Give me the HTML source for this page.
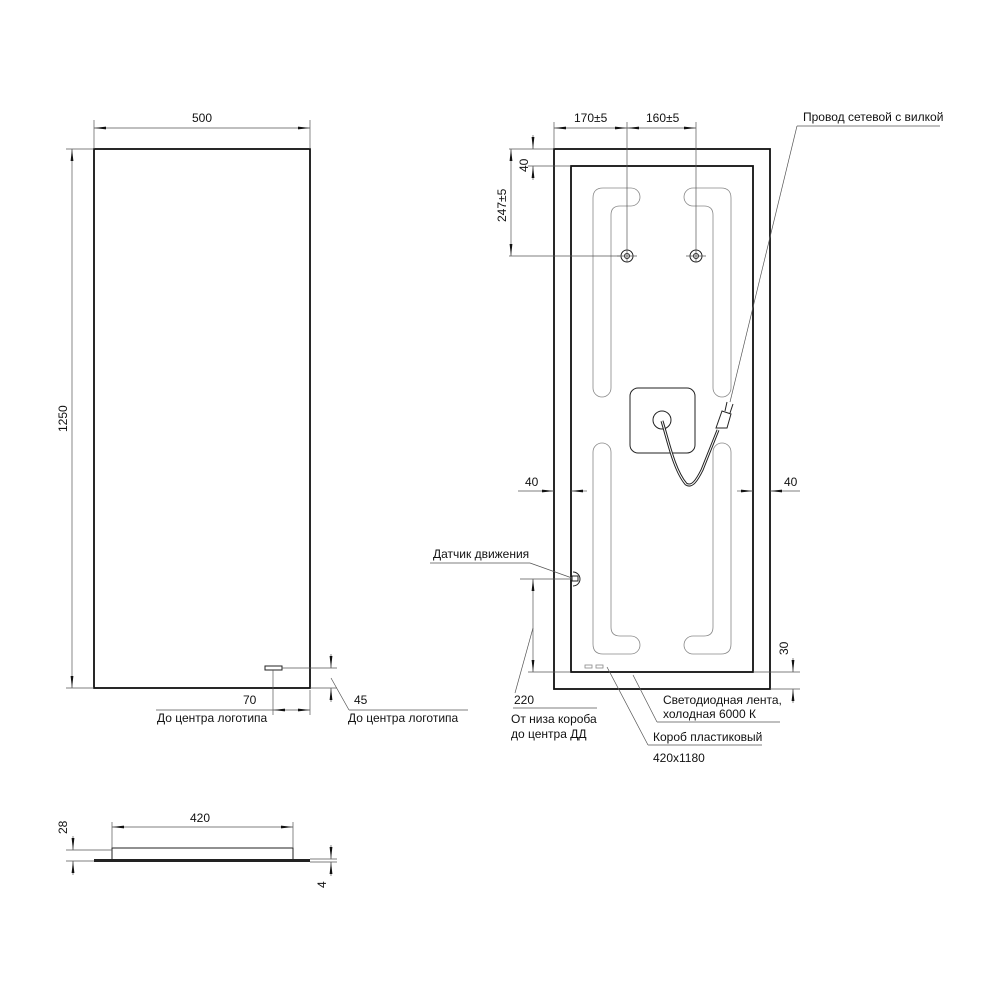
<!DOCTYPE html>
<html><head><meta charset="utf-8"><style>
html,body{margin:0;padding:0;background:#fff}
svg{display:block}
text{font-family:"Liberation Sans","DejaVu Sans",sans-serif;font-size:12px;fill:#111}
.t{stroke:#111;stroke-width:1.8;fill:none}
.m{stroke:#222;stroke-width:1;fill:none}
.h{stroke:#555;stroke-width:0.7;fill:none}
.l{stroke:#888;stroke-width:0.8;fill:none}
</style></head><body>
<svg width="1000" height="1000" viewBox="0 0 1000 1000" xmlns="http://www.w3.org/2000/svg">
<defs>
<marker id="a" viewBox="0 0 12 4" refX="12" refY="2" markerWidth="12" markerHeight="4" orient="auto-start-reverse" markerUnits="userSpaceOnUse"><path d="M0,0.6 L12,2 L0,3.4z" fill="#111"/></marker>
</defs>

<!-- LEFT FRONT VIEW -->
<rect class="t" x="94" y="149" width="216" height="539"/>
<line class="h" x1="94" y1="120" x2="94" y2="149"/>
<line class="h" x1="310" y1="120" x2="310" y2="149"/>
<line class="h" x1="94" y1="128" x2="310" y2="128" marker-start="url(#a)" marker-end="url(#a)"/>
<text x="192" y="122">500</text>
<line class="h" x1="66" y1="149" x2="94" y2="149"/>
<line class="h" x1="66" y1="688" x2="94" y2="688"/>
<line class="h" x1="72" y1="149" x2="72" y2="688" marker-start="url(#a)" marker-end="url(#a)"/>
<text transform="translate(67,432) rotate(-90)">1250</text>
<rect class="m" x="265" y="666" width="17" height="4" stroke-width="1.3"/>
<line class="h" x1="282" y1="668" x2="337" y2="668"/>
<line class="h" x1="310" y1="688" x2="337" y2="688"/>
<line class="h" x1="273" y1="670" x2="273" y2="715"/>
<line class="h" x1="310" y1="690" x2="310" y2="715"/>
<line class="h" x1="273" y1="710" x2="310" y2="710" marker-start="url(#a)" marker-end="url(#a)"/>
<line class="h" x1="156" y1="710" x2="273" y2="710"/>
<text x="243" y="704">70</text>
<text x="157" y="722">До центра логотипа</text>
<line class="h" x1="331" y1="654" x2="331" y2="668" marker-end="url(#a)"/>
<line class="h" x1="331" y1="702" x2="331" y2="688" marker-end="url(#a)"/>
<line class="h" x1="331" y1="678" x2="349" y2="710"/>
<line class="h" x1="349" y1="710" x2="468" y2="710"/>
<text x="354" y="704">45</text>
<text x="348" y="722">До центра логотипа</text>

<!-- SIDE VIEW -->
<rect x="94" y="859" width="216" height="3" fill="#222"/>
<rect class="m" x="112" y="848" width="181" height="12" stroke-width="1.3"/>
<line class="m" x1="160" y1="848" x2="176" y2="848" stroke-width="2"/>
<line class="m" x1="229" y1="848" x2="245" y2="848" stroke-width="2"/>
<line class="h" x1="112" y1="822" x2="112" y2="848"/>
<line class="h" x1="293" y1="822" x2="293" y2="848"/>
<line class="h" x1="112" y1="827" x2="293" y2="827" marker-start="url(#a)" marker-end="url(#a)"/>
<text x="190" y="822">420</text>
<line class="h" x1="66" y1="850" x2="112" y2="850"/>
<line class="h" x1="66" y1="861" x2="94" y2="861"/>
<line class="h" x1="73" y1="836" x2="73" y2="850" marker-end="url(#a)"/>
<line class="h" x1="73" y1="875" x2="73" y2="861" marker-end="url(#a)"/>
<text transform="translate(67,834) rotate(-90)">28</text>
<line class="h" x1="310" y1="859" x2="337" y2="859"/>
<line class="h" x1="310" y1="862" x2="337" y2="862"/>
<line class="h" x1="331" y1="845" x2="331" y2="859" marker-end="url(#a)"/>
<line class="h" x1="331" y1="876" x2="331" y2="862" marker-end="url(#a)"/>
<text transform="translate(326,888) rotate(-90)">4</text>

<!-- RIGHT BACK VIEW -->
<rect class="t" x="554" y="149" width="216" height="540"/>
<rect class="t" x="571" y="166" width="182" height="506"/>
<!-- LED strips -->
<path class="l" d="M611,388 L611,215 Q611,206 620,206 L631,206 A9,9 0 0 0 631,188 L603,188 Q593,188 593,198 L593,388 A9,9 0 0 0 611,388 Z"/>
<path class="l" d="M713,388 L713,215 Q713,206 704,206 L693,206 A9,9 0 0 1 693,188 L721,188 Q731,188 731,198 L731,388 A9,9 0 0 1 713,388 Z"/>
<path class="l" d="M611,452 L611,627 Q611,636 620,636 L631,636 A9,9 0 0 1 631,654 L603,654 Q593,654 593,644 L593,452 A9,9 0 0 1 611,452 Z"/>
<path class="l" d="M713,452 L713,627 Q713,636 704,636 L693,636 A9,9 0 0 0 693,654 L721,654 Q731,654 731,644 L731,452 A9,9 0 0 0 713,452 Z"/>
<!-- holes -->
<circle class="m" cx="627" cy="256" r="6" stroke-width="1.5"/><circle class="m" cx="627" cy="256" r="2.5"/>
<circle class="m" cx="696" cy="256" r="6" stroke-width="1.5"/><circle class="m" cx="696" cy="256" r="2.5"/>
<line class="h" x1="617" y1="256" x2="637" y2="256"/><line class="h" x1="686" y1="256" x2="706" y2="256"/>
<!-- center box -->
<rect class="m" x="630" y="388" width="65" height="65" rx="8" stroke-width="1.4"/>
<circle class="m" cx="662" cy="420" r="9" stroke-width="1.3"/>
<path d="M662,421 C668,440 674,470 686,484 C692,488 697,480 702,470 L718,430" stroke="#222" stroke-width="3" fill="none"/>
<path d="M662,421 C668,440 674,470 686,484 C692,488 697,480 702,470 L718,430" stroke="#fff" stroke-width="1" fill="none"/>
<path class="m" d="M716,428 L722,411 L731,414 L727,428 Z" stroke-width="1.3"/>
<line class="m" x1="725" y1="411" x2="727" y2="402" stroke-width="1.5"/>
<line class="m" x1="730" y1="413" x2="733" y2="404" stroke-width="1.5"/>
<!-- top dims -->
<line class="h" x1="554" y1="122" x2="554" y2="149"/>
<line class="h" x1="627" y1="122" x2="627" y2="262"/>
<line class="h" x1="696" y1="122" x2="696" y2="262"/>
<line class="h" x1="554" y1="128" x2="627" y2="128" marker-start="url(#a)" marker-end="url(#a)"/>
<line class="h" x1="627" y1="128" x2="696" y2="128" marker-start="url(#a)" marker-end="url(#a)"/>
<text x="574" y="122">170±5</text>
<text x="646" y="122">160±5</text>
<line class="h" x1="509" y1="149" x2="554" y2="149"/>
<line class="h" x1="528" y1="166" x2="571" y2="166"/>
<line class="h" x1="509" y1="256" x2="620" y2="256"/>
<line class="h" x1="533" y1="135" x2="533" y2="149" marker-end="url(#a)"/>
<line class="h" x1="533" y1="180" x2="533" y2="166" marker-end="url(#a)"/>
<text transform="translate(528,172) rotate(-90)">40</text>
<line class="h" x1="511" y1="149" x2="511" y2="256" marker-start="url(#a)" marker-end="url(#a)"/>
<text transform="translate(506,222) rotate(-90)">247±5</text>
<!-- 40 side dims -->
<line class="h" x1="518" y1="491" x2="554" y2="491" marker-end="url(#a)"/>
<line class="h" x1="587" y1="491" x2="571" y2="491" marker-end="url(#a)"/>
<text x="525" y="486">40</text>
<line class="h" x1="737" y1="491" x2="753" y2="491" marker-end="url(#a)"/>
<line class="h" x1="800" y1="491" x2="770" y2="491" marker-end="url(#a)"/>
<text x="784" y="486">40</text>
<!-- sensor -->
<path class="m" d="M573,572 A7,7 0 0 1 573,586"/>
<rect class="m" x="572" y="576" width="6" height="5" stroke-width="1.3"/>
<line class="h" x1="430" y1="563" x2="530" y2="563"/>
<line class="h" x1="530" y1="563" x2="572" y2="578"/>
<text x="433" y="558">Датчик движения</text>
<line class="h" x1="520" y1="579" x2="572" y2="579"/>
<line class="h" x1="533" y1="579" x2="533" y2="672" marker-start="url(#a)" marker-end="url(#a)"/>
<line class="h" x1="528" y1="672" x2="571" y2="672"/>
<line class="h" x1="533" y1="628" x2="515" y2="693"/>
<text x="514" y="704">220</text>
<line class="h" x1="513" y1="708" x2="597" y2="708"/>
<text x="511" y="723">От низа короба</text>
<text x="511" y="738">до центра ДД</text>
<!-- dashed marks -->
<rect class="l" x="585" y="665" width="7" height="3"/>
<rect class="l" x="596" y="665" width="7" height="3"/>
<!-- 30 dim -->
<line class="h" x1="753" y1="672" x2="800" y2="672"/>
<line class="h" x1="770" y1="689" x2="800" y2="689"/>
<line class="h" x1="793" y1="658" x2="793" y2="672" marker-end="url(#a)"/>
<line class="h" x1="793" y1="703" x2="793" y2="689" marker-end="url(#a)"/>
<text transform="translate(788,655) rotate(-90)">30</text>
<!-- LED leaders -->
<line class="h" x1="633" y1="675" x2="657" y2="722"/>
<line class="h" x1="657" y1="722" x2="780" y2="722"/>
<text x="663" y="704">Светодиодная лента,</text>
<text x="663" y="718">холодная 6000 К</text>
<line class="h" x1="607" y1="667" x2="648" y2="745"/>
<line class="h" x1="648" y1="745" x2="762" y2="745"/>
<text x="653" y="741">Короб пластиковый</text>
<text x="653" y="762">420x1180</text>
<!-- cable leader -->
<line class="h" x1="797" y1="126" x2="730" y2="402"/>
<line class="h" x1="797" y1="126" x2="940" y2="126"/>
<text x="803" y="121">Провод сетевой с вилкой</text>
</svg>
</body></html>
